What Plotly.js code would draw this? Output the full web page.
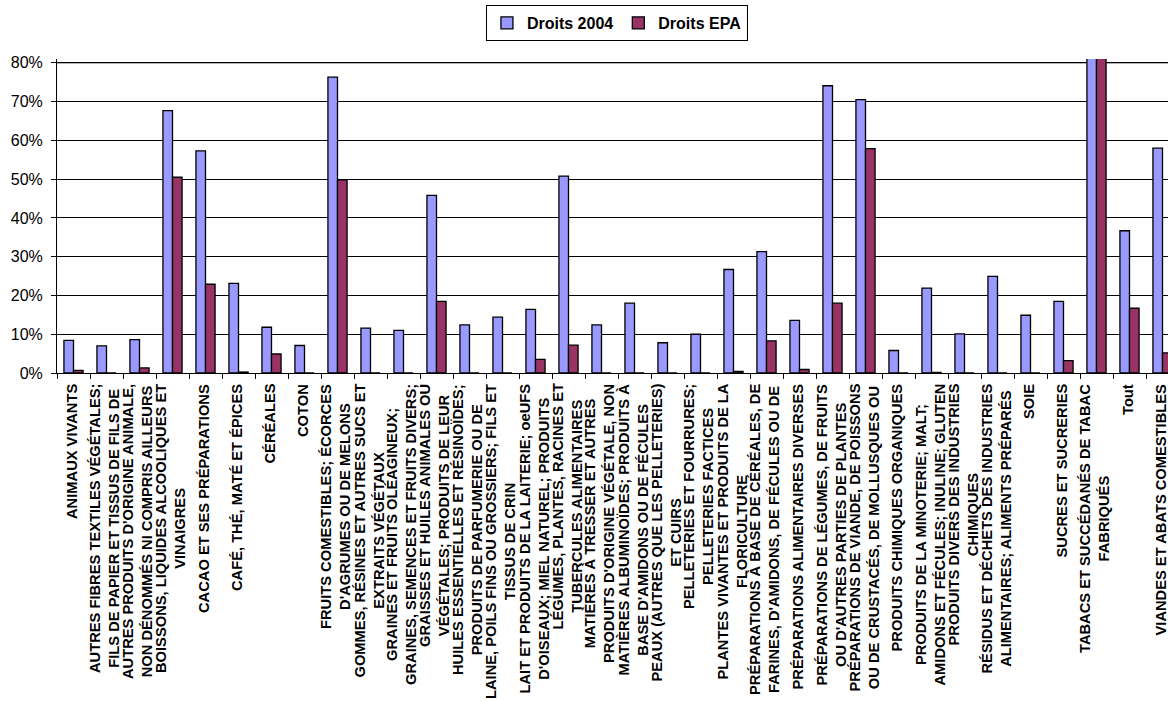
<!DOCTYPE html>
<html>
<head>
<meta charset="utf-8">
<script src="https://cdn.plot.ly/plotly-3.0.1.min.js"></script>
<style>
html,body{margin:0;padding:0;background:#fff;overflow:hidden;}
#chart{width:1168px;height:701px;}
</style>
</head>
<body>
<div id="chart"></div>
<script>
var categories = [
  "ANIMAUX VIVANTS",
  "AUTRES FIBRES TEXTILES VÉGÉTALES;<br>FILS DE PAPIER ET TISSUS DE FILS DE",
  "AUTRES PRODUITS D'ORIGINE ANIMALE,<br>NON DÉNOMMÉS NI COMPRIS AILLEURS",
  "BOISSONS, LIQUIDES ALCOOLIQUES ET<br>VINAIGRES",
  "CACAO ET SES PRÉPARATIONS",
  "CAFÉ, THÉ, MATÉ ET ÉPICES",
  "CÉRÉALES",
  "COTON",
  "FRUITS COMESTIBLES; ÉCORCES<br>D'AGRUMES OU DE MELONS",
  "GOMMES, RÉSINES ET AUTRES SUCS ET<br>EXTRAITS VÉGÉTAUX",
  "GRAINES ET FRUITS OLÉAGINEUX;<br>GRAINES, SEMENCES ET FRUITS DIVERS;",
  "GRAISSES ET HUILES ANIMALES OU<br>VÉGÉTALES; PRODUITS DE LEUR",
  "HUILES ESSENTIELLES ET RÉSINOÏDES;<br>PRODUITS DE PARFUMERIE OU DE",
  "LAINE, POILS FINS OU GROSSIERS; FILS ET<br>TISSUS DE CRIN",
  "LAIT ET PRODUITS DE LA LAITERIE; oeUFS<br>D'OISEAUX; MIEL NATUREL; PRODUITS",
  "LÉGUMES, PLANTES, RACINES ET<br>TUBERCULES ALIMENTAIRES",
  "MATIÈRES À TRESSER ET AUTRES<br>PRODUITS D'ORIGINE VÉGÉTALE, NON",
  "MATIÈRES ALBUMINOÏDES; PRODUITS À<br>BASE D'AMIDONS OU DE FÉCULES",
  "PEAUX (AUTRES QUE LES PELLETERIES)<br>ET CUIRS",
  "PELLETERIES ET FOURRURES;<br>PELLETERIES FACTICES",
  "PLANTES VIVANTES ET PRODUITS DE LA<br>FLORICULTURE",
  "PRÉPARATIONS À BASE DE CÉRÉALES, DE<br>FARINES, D'AMIDONS, DE FÉCULES OU DE",
  "PRÉPARATIONS ALIMENTAIRES DIVERSES",
  "PRÉPARATIONS DE LÉGUMES, DE FRUITS<br>OU D'AUTRES PARTIES DE PLANTES",
  "PRÉPARATIONS DE VIANDE, DE POISSONS<br>OU DE CRUSTACÉS, DE MOLLUSQUES OU",
  "PRODUITS CHIMIQUES ORGANIQUES",
  "PRODUITS DE LA MINOTERIE; MALT;<br>AMIDONS ET FÉCULES; INULINE; GLUTEN",
  "PRODUITS DIVERS DES INDUSTRIES<br>CHIMIQUES",
  "RÉSIDUS ET DÉCHETS DES INDUSTRIES<br>ALIMENTAIRES; ALIMENTS PRÉPARÉS",
  "SOIE",
  "SUCRES ET SUCRERIES",
  "TABACS ET SUCCÉDANÉS DE TABAC<br>FABRIQUÉS",
  "Tout",
  "VIANDES ET ABATS COMESTIBLES"
];

var droits2004 = [0.084, 0.070, 0.086, 0.677, 0.573, 0.231, 0.118, 0.071, 0.763, 0.116,
                  0.110, 0.458, 0.124, 0.144, 0.164, 0.508, 0.124, 0.180, 0.078, 0.100,
                  0.267, 0.313, 0.136, 0.741, 0.705, 0.058, 0.219, 0.101, 0.249, 0.149,
                  0.185, 0.950, 0.367, 0.580];

var droitsEPA = [0.007, 0, 0.013, 0.505, 0.229, 0.0025, 0.049, 0, 0.498, 0,
                 0, 0.185, 0, 0, 0.035, 0.072, 0, 0, 0, 0,
                 0.004, 0.083, 0.009, 0.180, 0.579, 0, 0.0015, 0, 0, 0,
                 0.032, 0.950, 0.167, 0.052];

var seriesNames = ["Droits 2004", "Droits EPA"];
var yTickVals = [0, 0.1, 0.2, 0.3, 0.4, 0.5, 0.6, 0.7, 0.8];
var yTickText = ["0%", "10%", "20%", "30%", "40%", "50%", "60%", "70%", "80%"];

var FONT = "Liberation Sans, Arial, sans-serif";
var idx = categories.map(function(_, i){ return i; });

var traces = [
  {type: "bar", name: seriesNames[0], x: idx, y: droits2004,
   marker: {color: "#9999FF", line: {color: "#000000", width: 1.3}}},
  {type: "bar", name: seriesNames[1], x: idx, y: droitsEPA,
   marker: {color: "#993366", line: {color: "#000000", width: 1.3}}}
];

var labelAnnotations = categories.map(function(c, i){
  return {
    x: i, xref: "x", y: 0, yref: "paper",
    text: "<b>" + c + "</b>", showarrow: false,
    textangle: -90, xanchor: "center", yanchor: "top", align: "center",
    yshift: -10, xshift: -2, borderpad: 0,
    font: {family: FONT, size: 14.7, color: "#000000", weight: "bold"}
  };
});

var layout = {
  width: 1168, height: 701,
  margin: {l: 57, r: 0, t: 59, b: 328, pad: 0},
  paper_bgcolor: "#ffffff", plot_bgcolor: "#ffffff",
  barmode: "group", bargap: 0.42, bargroupgap: 0,
  showlegend: true,
  legend: {
    orientation: "h", x: 0.504, xanchor: "center", y: 1.172, yanchor: "top",
    bordercolor: "#000000", borderwidth: 1, bgcolor: "#ffffff",
    font: {family: FONT, size: 16, color: "#000000", weight: "bold"},
    itemwidth: 30, traceorder: "normal"
  },
  xaxis: {
    type: "linear", range: [-0.5, 33.1667],
    tickmode: "array", tickvals: idx.concat([33]).map(function(v){ return v - 0.5; }),
    showticklabels: false, ticks: "outside", ticklen: 5, tickcolor: "#000000", tickwidth: 1,
    showgrid: false, zeroline: false,
    showline: true, linecolor: "#000000", linewidth: 1
  },
  yaxis: {
    range: [0, 0.81], tickmode: "array", tickvals: yTickVals, ticktext: yTickText,
    ticks: "outside", ticklen: 5, tickcolor: "#000000", tickwidth: 1,
    ticklabelstandoff: 5,
    showgrid: true, gridcolor: "#000000", gridwidth: 1,
    zeroline: false, showline: true, linecolor: "#000000", linewidth: 1,
    tickfont: {family: FONT, size: 16, color: "#000000"}
  },
  shapes: [{
    type: "line", xref: "paper", x0: 0, x1: 1, yref: "y", y0: 0.8, y1: 0.8,
    line: {color: "#9a9a9a", width: 1.5}, layer: "between"
  }],
  annotations: labelAnnotations
};

Plotly.newPlot("chart", traces, layout, {staticPlot: true, displayModeBar: false});
</script>
</body>
</html>
